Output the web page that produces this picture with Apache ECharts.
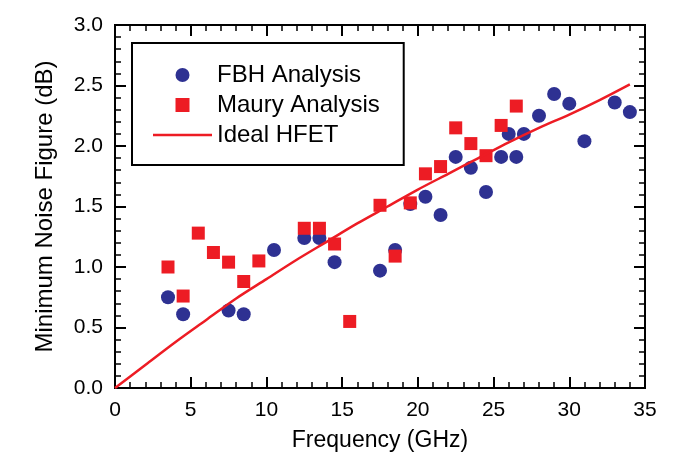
<!DOCTYPE html>
<html>
<head>
<meta charset="utf-8">
<script src="https://cdn.jsdelivr.net/npm/echarts@6/dist/echarts.min.js"></script>
<style>
  html, body { margin: 0; padding: 0; background: #fff; }
  .layer { position: absolute; left: 0; top: 0; width: 690px; height: 457px; }
</style>
</head>
<body>
<div class="layer" id="frame"></div>
<div class="layer" id="chart"></div>
<script>
// FBH Analysis (blue circles)
const fbhFreq = [3.5, 4.5, 7.5, 8.5, 10.5, 12.5, 13.5, 14.5, 17.5, 18.5, 19.5, 20.5, 21.5, 22.5, 23.5, 24.5, 25.5, 26, 26.5, 27, 28, 29, 30, 31, 33, 34];
const fbhNF   = [0.75, 0.61, 0.64, 0.61, 1.14, 1.24, 1.24, 1.04, 0.97, 1.14, 1.52, 1.58, 1.43, 1.91, 1.82, 1.62, 1.91, 2.10, 1.91, 2.10, 2.25, 2.43, 2.35, 2.04, 2.36, 2.28];
// Maury Analysis (red squares)
const mauryFreq = [3.5, 4.5, 5.5, 6.5, 7.5, 8.5, 9.5, 12.5, 13.5, 14.5, 15.5, 17.5, 18.5, 19.5, 20.5, 21.5, 22.5, 23.5, 24.5, 25.5, 26.5];
const mauryNF   = [1.00, 0.76, 1.28, 1.12, 1.04, 0.88, 1.05, 1.32, 1.32, 1.19, 0.55, 1.51, 1.09, 1.53, 1.77, 1.83, 2.15, 2.02, 1.92, 2.17, 2.33];
// Ideal HFET curve
const idealFreq = [0, 2, 4, 6, 8, 10, 12, 14, 16, 18, 20, 22, 24, 26, 28, 30, 32, 34];
const idealNF   = [0, 0.19, 0.38, 0.56, 0.74, 0.90, 1.06, 1.21, 1.36, 1.50, 1.64, 1.77, 1.90, 2.03, 2.15, 2.26, 2.38, 2.51];

const xTicks = [0, 35, 5];
const yTicks = [0, 3, 0.5];

const font = "'Liberation Sans', Arial, sans-serif";
const zip = (a, b) => a.map((v, i) => [v, b[i]]);
const grid = { left: 115, right: 45, top: 25, bottom: 69 };

// layer 1: inward major/minor ticks on all four sides
function frame(extra) {
  return Object.assign({
    axisLine: { show: true, onZero: false, lineStyle: { color: '#000', width: 2 } },
    axisTick: { show: true, inside: true, length: 11, lineStyle: { color: '#000', width: 2 } },
    minorTick: { show: true, splitNumber: 5, length: 6, lineStyle: { color: '#000', width: 1.5 } },
    splitLine: { show: false }
  }, extra);
}
const clear = 'rgba(0,0,0,0)';

echarts.init(document.getElementById('frame')).setOption({
  animation: false,
  grid: grid,
  xAxis: [
    frame({ type: 'value', min: xTicks[0], max: xTicks[1], interval: xTicks[2], axisLabel: { color: clear } }),
    frame({ type: 'value', position: 'top', min: xTicks[0], max: xTicks[1], interval: xTicks[2], axisLabel: { show: false } })
  ],
  yAxis: [
    frame({ type: 'value', min: yTicks[0], max: yTicks[1], interval: yTicks[2], axisLabel: { color: clear } }),
    frame({ type: 'value', position: 'right', min: yTicks[0], max: yTicks[1], interval: yTicks[2], axisLabel: { show: false } })
  ],
  series: [{ type: 'scatter', itemStyle: { color: clear }, data: [[fbhFreq[0], fbhNF[0]]] }]
});

// layer 2: box, labels, names, legend and data
const hidden = { axisLine: { show: false }, axisTick: { show: false }, splitLine: { show: false } };
const myChart = echarts.init(document.getElementById('chart'));
myChart.setOption({
  animation: false,
  grid: Object.assign({ show: true, borderColor: '#000', borderWidth: 2, backgroundColor: 'transparent' }, grid),
  legend: {
    left: 132, top: 43,
    orient: 'vertical',
    borderColor: '#000', borderWidth: 2,
    padding: [20, 24, 18, 21],
    itemGap: 6,
    itemWidth: 59, itemHeight: 14,
    textStyle: { fontSize: 24, color: '#000', fontFamily: font, lineHeight: 24 },
    data: [
      { name: 'FBH Analysis', icon: 'circle' },
      { name: 'Maury Analysis', icon: 'path://M0,0L1,0L1,1L0,1Z' },
      { name: 'Ideal HFET', icon: 'path://M0,0L59,0L59,2.5L0,2.5Z' }
    ]
  },
  xAxis: Object.assign({
    type: 'value',
    min: xTicks[0], max: xTicks[1], interval: xTicks[2],
    axisLabel: { fontSize: 21, color: '#000', margin: 12, fontFamily: font },
    name: 'Frequency (GHz)', nameLocation: 'middle', nameGap: 41,
    nameTextStyle: { fontSize: 23, color: '#000', fontFamily: font }
  }, hidden),
  yAxis: Object.assign({
    type: 'value',
    min: yTicks[0], max: yTicks[1], interval: yTicks[2],
    axisLabel: { fontSize: 21, color: '#000', margin: 12, fontFamily: font, formatter: v => v.toFixed(1) },
    name: 'Minimum Noise Figure (dB)', nameLocation: 'middle', nameGap: 58,
    nameTextStyle: { fontSize: 24, color: '#000', fontFamily: font }
  }, hidden),
  series: [
    {
      name: 'FBH Analysis', type: 'scatter',
      symbol: 'circle', symbolSize: 14,
      itemStyle: { color: '#2E3192', opacity: 1 },
      data: zip(fbhFreq, fbhNF)
    },
    {
      name: 'Maury Analysis', type: 'scatter',
      symbol: 'rect', symbolSize: 13,
      itemStyle: { color: '#ED1C24', opacity: 1 },
      data: zip(mauryFreq, mauryNF)
    },
    {
      name: 'Ideal HFET', type: 'line',
      symbol: 'none', smooth: 0.3,
      lineStyle: { color: '#ED1C24', width: 2.5 },
      itemStyle: { color: '#ED1C24' },
      data: zip(idealFreq, idealNF)
    }
  ]
});
</script>
</body>
</html>
